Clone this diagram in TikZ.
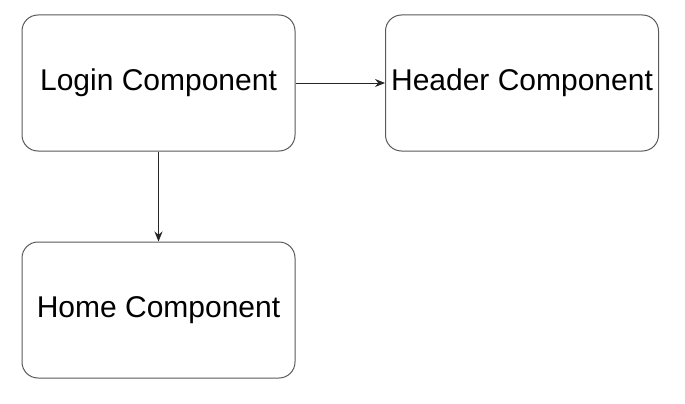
\documentclass[tikz,border=0pt]{standalone}
\usepackage{fontspec}
\setmainfont{Liberation Sans}
\usetikzlibrary{arrows.meta}

\begin{document}
\begin{tikzpicture}[x=1pt, y=-1pt,
  comp/.style={rectangle, rounded corners=16pt, draw=black!65, line width=1pt,
    minimum width=273pt, minimum height=136pt, inner sep=0pt, font=\fontsize{30}{34}\selectfont}]
\useasboundingbox (0,0) rectangle (685,404);
\draw
(158.5, 83) node[comp](login){Login Component}
(522, 83) node[comp](header){Header Component}
(158.5, 310) node[comp](home){Home Component};

\draw[-{Stealth[length=10pt,width=8pt]}, line width=1pt, black!85] (login) -- (header);
\draw[-{Stealth[length=10pt,width=8pt]}, line width=1pt, black!85] (login) -- (home);

\end{tikzpicture}
\end{document}
